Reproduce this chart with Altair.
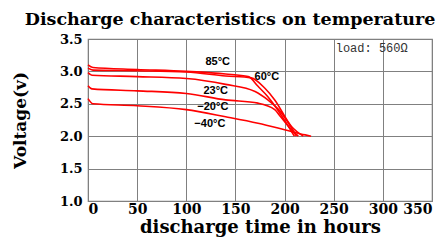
import altair as alt
import pandas as pd

series = ["85°C", "60°C", "23°C", "−20°C", "−40°C"]
hours = [
    [0, 5, 50, 100, 140, 163, 173, 183, 204, 210],
    [0, 5, 50, 100, 140, 166, 180, 190, 207, 219],
    [0, 4, 50, 100, 140, 170, 183, 194, 207, 212],
    [0, 4, 50, 100, 140, 173, 190, 196, 207, 214],
    [0, 5, 50, 100, 140, 173, 200, 221, 227],
]
volts = [
    [3.10, 3.06, 3.03, 3.00, 2.96, 2.92, 2.77, 2.61, 2.15, 2.00],
    [3.05, 3.02, 3.01, 2.99, 2.93, 2.90, 2.74, 2.56, 2.15, 2.00],
    [2.98, 2.94, 2.92, 2.89, 2.80, 2.69, 2.56, 2.41, 2.13, 2.00],
    [2.78, 2.73, 2.70, 2.66, 2.56, 2.51, 2.41, 2.30, 2.10, 2.00],
    [2.58, 2.50, 2.47, 2.41, 2.30, 2.20, 2.10, 2.02, 2.00],
]
label_t = [132, 182, 130, 127, 124]
label_v = [3.15, 2.92, 2.70, 2.45, 2.19]

x_ticks = [0, 50, 100, 150, 200, 250, 300, 350]
y_ticks = [1.0, 1.5, 2.0, 2.5, 3.0, 3.5]

rows = []
for s, hs, vs in zip(series, hours, volts):
    for i, (h, v) in enumerate(zip(hs, vs)):
        rows.append({"series": s, "h": h, "v": v, "i": i})
df = pd.DataFrame(rows)
lab = pd.DataFrame({"series": series, "h": label_t, "v": label_v})
load = pd.DataFrame({"txt": ["load: 560Ω"], "h": [252], "v": [3.36]})

SERIF = "DejaVu Serif"
MONO = "Liberation Mono"
xs = alt.Scale(domain=[0, 350], nice=False)
ys = alt.Scale(domain=[1.0, 3.5], nice=False)
xax = alt.Axis(values=x_ticks, format="d", title="discharge time in hours", grid=True)
yax = alt.Axis(values=y_ticks, format=".1f", title="Voltage(v)", grid=True)
X = alt.X("h:Q", scale=xs, axis=xax)
Y = alt.Y("v:Q", scale=ys, axis=yax)

lines = alt.Chart(df).mark_line(color="#ff0000", strokeWidth=1.6, interpolate="monotone").encode(
    x=X, y=Y, detail="series:N", order="i:Q",
)

labels = alt.Chart(lab).mark_text(font="Liberation Sans", fontWeight="bold", fontSize=11,
                                  color="black").encode(x=X, y=Y, text="series:N")

load_txt = alt.Chart(load).mark_text(font=MONO, fontSize=12, align="left", color="#333333").encode(
    x=X, y=Y, text="txt:N")

chart = alt.layer(lines, labels, load_txt).properties(
    width=344, height=162,
    autosize=alt.AutoSizeParams(type="none"),
    padding={"left": 80, "top": 31, "right": 6, "bottom": 40},
    title=alt.Title("Discharge characteristics on temperature", font=SERIF, fontSize=17.5,
                    fontWeight="bold", color="black", anchor="middle", dx=-30, offset=5),
).configure_view(stroke="#808080", strokeWidth=1.2).configure_axis(
    domainColor="#808080", gridColor="#808080", gridOpacity=1, gridWidth=1, ticks=False,
    labelFont=SERIF, labelFontWeight="bold", labelColor="black", labelOverlap=False,
    titleFont=SERIF, titleFontWeight="bold", titleColor="black",
).configure_axisX(labelFontSize=14, labelPadding=1, titleFontSize=18, titlePadding=2
).configure_axisY(labelFontSize=13, labelPadding=6, titleFontSize=17, titlePadding=30)

chart.save("out.html", embed_options={"renderer": "svg", "actions": False})
